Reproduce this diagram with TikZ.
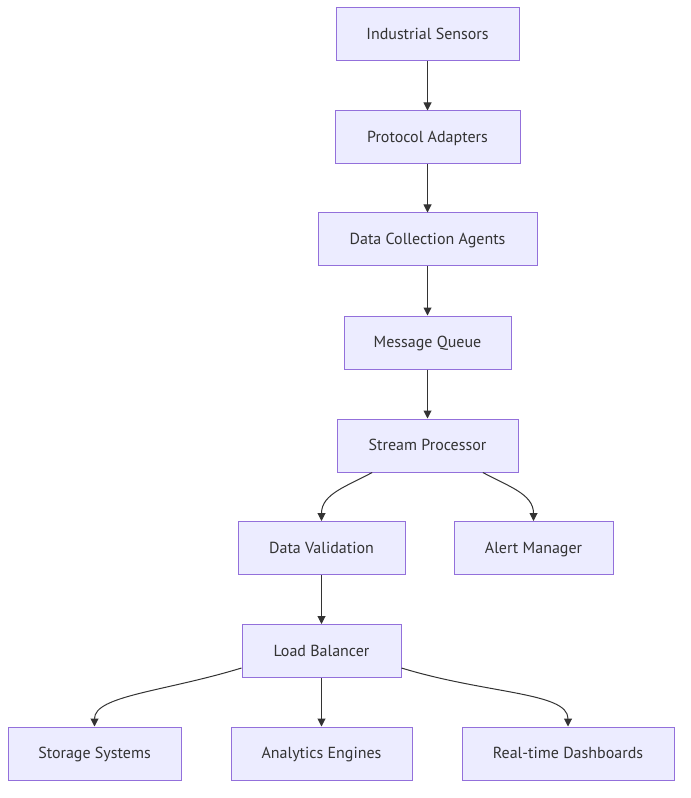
\documentclass[tikz,border=0pt]{standalone}
\usepackage{fontspec}
\setmainfont{PT Sans}
\usepackage{xcolor}
\usetikzlibrary{arrows.meta}
\definecolor{nodefill}{HTML}{ECECFF}
\definecolor{nodeline}{HTML}{9370DB}
\definecolor{edgeline}{HTML}{333333}

\begin{document}
\begin{tikzpicture}[
  x=0.75pt, y=0.75pt,
  every node/.style={font=\fontsize{12}{14}\selectfont, text=edgeline},
  box/.style={draw=nodeline, fill=nodefill, line width=0.75pt, minimum height=39.75pt, inner sep=0pt,
    text height=1.6ex, text depth=0.1ex},
  conn/.style={draw=edgeline, line width=0.75pt, -{Triangle[length=6pt,width=6pt]}}
]

\useasboundingbox (0,0) rectangle (690,-798);

% pipeline (coordinates in px of the layout)
\node[box, minimum width=137.25pt] (sensors)  at (427.5,-34.5)  {Industrial Sensors};
\node[box, minimum width=138.75pt] (adapters) at (427.5,-137.5) {Protocol Adapters};
\node[box, minimum width=164.25pt] (agents)   at (427.5,-239.5) {Data Collection Agents};
\node[box, minimum width=125.25pt] (queue)    at (427.5,-342.5) {Message Queue};
\node[box, minimum width=135.75pt] (stream)   at (427.5,-445.5) {Stream Processor};

\node[box, minimum width=125.25pt] (valid)    at (321.5,-548)   {Data Validation};
\node[box, minimum width=119.25pt] (alert)    at (533.5,-548)   {Alert Manager};
\node[box, minimum width=119.25pt] (balancer) at (321.5,-651)   {Load Balancer};

\node[box, minimum width=129.75pt] (storage)    at (94.5,-753.5)  {Storage Systems};
\node[box, minimum width=135.75pt] (analytics)  at (321.5,-753.5) {Analytics Engines};
\node[box, minimum width=159pt]    (dashboards) at (568,-753.5)   {Real-time Dashboards};

\draw[conn] (sensors) -- (adapters);
\draw[conn] (adapters) -- (agents);
\draw[conn] (agents) -- (queue);
\draw[conn] (queue) -- (stream);

\draw[conn] (stream.206) to[out=209, in=90] (valid);
\draw[conn] (stream.334) to[out=-29, in=90] (alert);
\draw[conn] (valid) -- (balancer);

\draw[conn] (balancer.192) to[out=197, in=90, out looseness=1.3, in looseness=0.5] (storage);
\draw[conn] (balancer) -- (analytics);
\draw[conn] (balancer.348) to[out=-17, in=90, out looseness=1.3, in looseness=0.5] (dashboards);

\end{tikzpicture}
\end{document}
